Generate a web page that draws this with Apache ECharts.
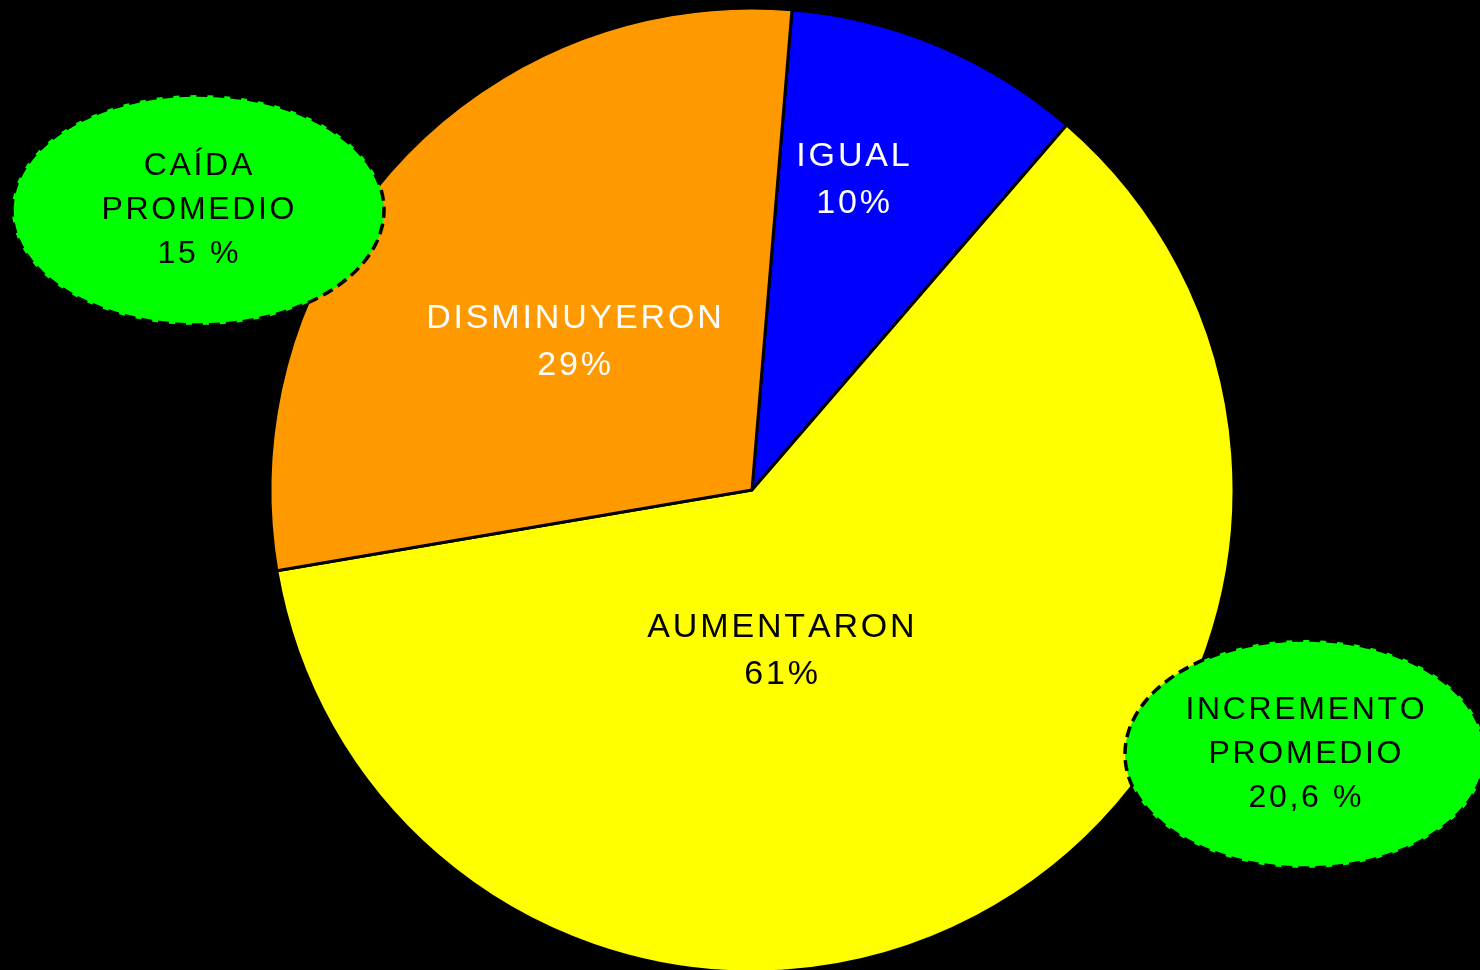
<!DOCTYPE html>
<html>
<head>
<meta charset="utf-8">
<script src="https://cdn.jsdelivr.net/npm/echarts@6/dist/echarts.min.js"></script>
<style>
    html, body { margin: 0; padding: 0; background: #000; }
    #main { width: 1480px; height: 970px; }
</style>
</head>
<body>
<div id="main"></div>
<script>
    // datos del gráfico
    var categories = ['IGUAL', 'AUMENTARON', 'DISMINUYERON'];
    var values = [10, 61, 29];
    var sliceColors = ['#0000FF', '#FFFF00', '#FF9900'];
    var labelColors = ['#FFFFFF', '#000000', '#FFFFFF'];
    var bubbleTexts = ['CAÍDA\nPROMEDIO\n15 %', 'INCREMENTO\nPROMEDIO\n20,6 %'];

    // posición de las etiquetas (px)
    var labelPos = [[853, 180], [781, 651], [574, 342]];
    var bubblePos = [[198, 210, 186, 115], [1305, 754, 180, 114]];

    // espaciado entre letras (hair space), como en el original
    function spaced(s) {
        return s.split('\n').map(function (line) {
            return line.split('').join('\u200A');
        }).join('\n');
    }

    var chart = echarts.init(document.getElementById('main'));

    var graphics = [];
    bubblePos.forEach(function (b, i) {
        graphics.push({
            type: 'ellipse',
            z: 100,
            shape: { cx: b[0], cy: b[1], rx: b[2], ry: b[3] },
            style: { fill: '#00FF00', stroke: '#000', lineWidth: 3.5, lineDash: [11, 6] }
        });
        graphics.push({
            type: 'text',
            z: 101,
            x: b[0], y: b[1],
            style: {
                text: spaced(bubbleTexts[i]),
                fill: '#000',
                font: '32px "Liberation Sans", Arial, sans-serif',
                lineHeight: 44,
                align: 'center',
                verticalAlign: 'middle'
            }
        });
    });

    chart.setOption({
        backgroundColor: '#000',
        animation: false,
        graphic: graphics,
        series: [
            {
                type: 'pie',
                center: [752, 490],
                radius: 482,
                startAngle: 85.24,
                clockwise: true,
                silent: true,
                itemStyle: { borderColor: '#000', borderWidth: 3 },
                label: {
                    show: true,
                    position: 'inside',
                    fontFamily: '"Liberation Sans", Arial, sans-serif',
                    fontSize: 34,
                    lineHeight: 47,
                    formatter: function (p) {
                        return spaced(p.name + '\n' + p.value + '%');
                    }
                },
                labelLine: { show: false },
                labelLayout: function (params) {
                    var p = labelPos[params.dataIndex];
                    return { x: p[0], y: p[1], align: 'center', verticalAlign: 'middle' };
                },
                data: categories.map(function (c, i) {
                    return {
                        name: c,
                        value: values[i],
                        itemStyle: { color: sliceColors[i] },
                        label: { color: labelColors[i] }
                    };
                })
            }
        ]
    });
</script>
</body>
</html>
